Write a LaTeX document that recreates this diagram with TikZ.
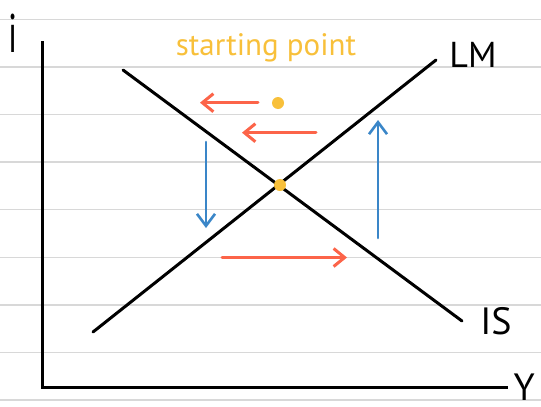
\documentclass[tikz,border=0pt]{standalone}
\usepackage{fontspec}
\setmainfont{PT Sans}
\usetikzlibrary{arrows.meta}
\definecolor{ruleg}{HTML}{D8D8D8}
\definecolor{redar}{HTML}{FC6449}
\definecolor{bluear}{HTML}{3A86C8}
\definecolor{yel}{HTML}{F8C03A}
\tikzset{
  rule/.style={draw=ruleg, line width=1.5pt},
  axis/.style={draw=black, line width=3pt},
  curve/.style={draw=black, line width=3pt, line cap=round},
  redarrow/.style={draw=redar, line width=3pt, line cap=round, -{Straight Barb[length=11pt,width=18pt,line width=3pt]}},
  bluearrow/.style={draw=bluear, line width=2.6pt, line cap=round, -{Straight Barb[length=12pt,width=18pt,line width=2.6pt]}},
  dotnode/.style={circle, fill=yel, inner sep=0pt, minimum size=12pt},
  lbl/.style={inner sep=0pt, text=black}
}
\begin{document}
\begin{tikzpicture}[x=1pt, y=-1pt]
\useasboundingbox (0,0) rectangle (541,407);
\fill[white] (0,0) rectangle (541,407);
% ruled lines
\foreach \k in {0,...,8} {
  \draw[rule] (0,{19.3+47.6*\k}) -- (541,{19.3+47.6*\k});
}
% axes
\coordinate (ytop) at (42.5,41);
\coordinate (origin) at (42.5,387);
\coordinate (xend) at (508,387);
\draw[axis] (ytop) -- (origin) -- (xend);
% curves
\coordinate (lm1) at (93,332);
\coordinate (lm2) at (436,60);
\coordinate (is1) at (123,70);
\coordinate (is2) at (462,321);
\draw[curve] (lm1) -- (lm2);
\draw[curve] (is1) -- (is2);
% labels
\node[lbl, font=\fontsize{36}{36}\selectfont, anchor=center] (lmlabel) at (473,55) {LM};
\node[lbl, font=\fontsize{38}{38}\selectfont, anchor=center] (islabel) at (496,321) {IS};
\node[lbl, font=\fontsize{38}{38}\selectfont, anchor=base east] (ylabel) at (535,400) {Y};
\node[lbl, font=\fontsize{34}{34}\selectfont, anchor=base, yscale=1.6] (ilabel) at (13,52) {i};
\node[lbl, text=yel, font=\fontsize{31}{31}\selectfont, anchor=base] (startlabel) at (266,55) {starting point};
% dots
\node[dotnode] (start) at (278,103) {};
\node[dotnode] (eq) at (280,185) {};
% arrows
\coordinate (r1a) at (258,102.7);
\coordinate (r1b) at (200,102.7);
\coordinate (r2a) at (316,132.7);
\coordinate (r2b) at (242,132.7);
\coordinate (r3a) at (222,257.5);
\coordinate (r3b) at (347,257.5);
\coordinate (b1a) at (206,142);
\coordinate (b1b) at (206,228);
\coordinate (b2a) at (378,238);
\coordinate (b2b) at (378,120);
\draw[redarrow] (r1a) -- (r1b);
\draw[redarrow] (r2a) -- (r2b);
\draw[redarrow] (r3a) -- (r3b);
\draw[bluearrow] (b1a) -- (b1b);
\draw[bluearrow] (b2a) -- (b2b);
\end{tikzpicture}
\end{document}
